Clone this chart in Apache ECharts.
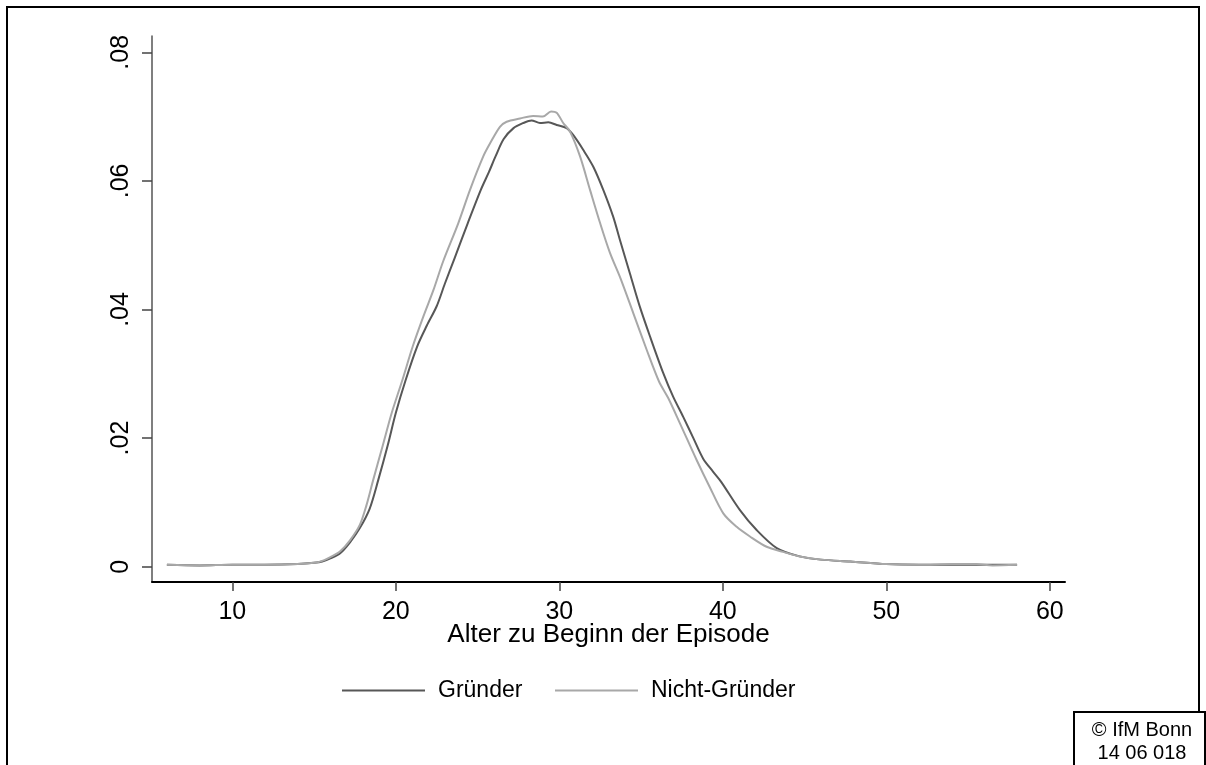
<!DOCTYPE html>
<html>
<head>
<meta charset="utf-8">
<script src="https://cdn.jsdelivr.net/npm/echarts@6/dist/echarts.min.js"></script>
<style>
html,body{margin:0;padding:0;background:#fff;}
#chart{width:1206px;height:765px;}
</style>
</head>
<body>
<div id="chart"></div>
<script>
const seriesNames = ['Gründer', 'Nicht-Gründer'];
const xTicks = [10, 20, 30, 40, 50, 60];
const yTicks = [0, 0.02, 0.04, 0.06, 0.08];
const xAxisTitle = 'Alter zu Beginn der Episode';
const footnoteLines = ['© IfM Bonn', '14 06 018'];

const gruender = [
  [6.0,0.0003],[8,0.0002],[10,0.0003],[12,0.0003],[14,0.0004],[15,0.0006],[15.5,0.0008],
  [16.0,0.0013],[16.6,0.0021],[17.2,0.0038],[17.8,0.0060],[18.4,0.0090],[18.93,0.0135],
  [19.5,0.0188],[20.0,0.0239],[20.6,0.0290],[21.3,0.0342],[21.9,0.0375],[22.5,0.0405],
  [23.0,0.0440],[23.6,0.0480],[24.4,0.0534],[25.2,0.0586],[25.7,0.0614],[26.1,0.0638],[26.6,0.0665],[27.2,0.0682],
  [27.8,0.0690],[28.3,0.0694],[28.82,0.0690],[29.33,0.0691],[29.84,0.0687],[30.45,0.0682],
  [30.86,0.0671],[31.47,0.0648],[32.08,0.0622],[32.69,0.0586],[33.3,0.0544],[33.71,0.0508],
  [34.32,0.0456],[34.93,0.0404],[35.55,0.0358],[36.36,0.0301],[36.97,0.0264],[37.58,0.0233],
  [38.2,0.0200],[38.8,0.0168],[39.4,0.0148],[39.9,0.0132],[41.05,0.0088],[42.07,0.0057],[43.3,0.0029],
  [44.7,0.0016],[46,0.0011],[47.8,0.0008],[50,0.0004],[52,0.0003],[54,0.0003],[56,0.0003],[58,0.0003]
];

const nichtGruender = [
  [6.0,0.0003],[8,0.0002],[10,0.0003],[12,0.0003],[14,0.0004],[15,0.0006],[15.5,0.0009],
  [16.0,0.0015],[16.6,0.0024],[17.2,0.0041],[17.8,0.0065],[18.2,0.0095],[18.62,0.0135],
  [19.2,0.0188],[19.75,0.0239],[20.4,0.0290],[21.03,0.0342],[21.7,0.0390],[22.3,0.0430],
  [22.9,0.0475],[23.82,0.0534],[24.54,0.0586],[25.35,0.0638],[25.76,0.0658],[26.37,0.0684],
  [26.78,0.0692],[27.6,0.0697],[28.4,0.0701],[29.0,0.0700],[29.5,0.0708],[29.84,0.0706],
  [30.24,0.0690],[30.65,0.0677],[31.27,0.0638],[31.88,0.0586],[32.5,0.0534],[33.1,0.0488],
  [33.75,0.0448],[34.53,0.0394],[35.35,0.0337],[36.1,0.0288],[36.67,0.0262],[37.38,0.0223],
  [38.4,0.0166],[39.2,0.0124],[40.03,0.0083],[40.85,0.0062],[41.66,0.0047],[42.68,0.0031],
  [43.7,0.0023],[44.7,0.0016],[46,0.0011],[47.8,0.0008],[50,0.0004],[52,0.0003],[54,0.0004],
  [55.5,0.0004],[56.5,0.0002],[58,0.0003]
];

const FONT = 'Liberation Sans, Arial, sans-serif';
const chart = echarts.init(document.getElementById('chart'), null, {renderer: 'canvas'});

chart.setOption({
  animation: false,
  backgroundColor: '#fff',
  grid: {left: 152, top: 36, right: 141, bottom: 183, containLabel: false},
  xAxis: {
    type: 'value', min: 5.09, max: 60.93,
    name: xAxisTitle, nameLocation: 'middle', nameGap: 40, nameMoveOverlap: false,
    nameTextStyle: {fontFamily: FONT, fontSize: 26, color: '#000'},
    axisLine: {onZero: false, lineStyle: {color: '#000', width: 2}},
    axisTick: {show: true, customValues: xTicks, length: 9, lineStyle: {color: '#444', width: 1.5}},
    axisLabel: {customValues: xTicks, margin: 18, fontFamily: FONT, fontSize: 25, color: '#000'},
    splitLine: {show: false}
  },
  yAxis: {
    type: 'value', min: -0.00238, max: 0.08253,
    axisLine: {show: true, onZero: false, lineStyle: {color: '#555', width: 1.5}},
    axisTick: {show: true, customValues: yTicks, length: 10, lineStyle: {color: '#444', width: 1.5}},
    axisLabel: {
      customValues: yTicks, rotate: 90, margin: 18, fontFamily: FONT, fontSize: 25, color: '#000',
      formatter: v => v === 0 ? '0' : String(+v.toFixed(2)).replace(/^0/, '')
    },
    splitLine: {show: false}
  },
  legend: [
    {data: [seriesNames[0]], left: 342, top: 679, padding: 0, itemWidth: 83, itemHeight: 14, icon: 'path://M0,6 L83,6 L83,8 L0,8 Z',
     textStyle: {fontFamily: FONT, fontSize: 23, color: '#000', padding: [0,0,0,8]}},
    {data: [seriesNames[1]], left: 555, top: 679, padding: 0, itemWidth: 83, itemHeight: 14, icon: 'path://M0,6 L83,6 L83,8 L0,8 Z',
     textStyle: {fontFamily: FONT, fontSize: 23, color: '#000', padding: [0,0,0,8]}}
  ],
  series: [
    {name: seriesNames[0], type: 'line', data: gruender, showSymbol: false, symbol: 'none', smooth: 0.3,
     lineStyle: {color: '#575757', width: 2}, itemStyle: {color: '#575757'}, z: 2},
    {name: seriesNames[1], type: 'line', data: nichtGruender, showSymbol: false, symbol: 'none', smooth: 0.3,
     lineStyle: {color: '#a8a8a8', width: 2}, itemStyle: {color: '#a8a8a8'}, z: 3}
  ],
  graphic: [
    {type: 'rect', shape: {x: 7, y: 7, width: 1192, height: 770}, style: {fill: 'none', stroke: '#000', lineWidth: 2}, silent: true},
    {type: 'rect', shape: {x: 1074, y: 712, width: 131, height: 60}, style: {fill: '#fff', stroke: '#000', lineWidth: 2}, silent: true},
    {type: 'text', x: 1142, y: 730, style: {text: footnoteLines[0], fontFamily: FONT, fontSize: 20, fill: '#000', align: 'center', verticalAlign: 'middle'}},
    {type: 'text', x: 1142, y: 753, style: {text: footnoteLines[1], fontFamily: FONT, fontSize: 20, fill: '#000', align: 'center', verticalAlign: 'middle'}}
  ]
});
</script>
</body>
</html>
